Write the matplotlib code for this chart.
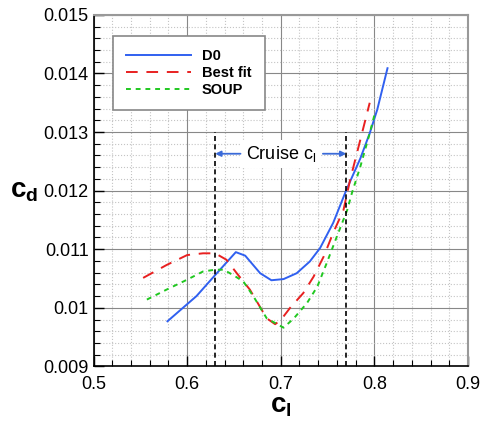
import matplotlib
matplotlib.use("Agg")
import matplotlib.pyplot as plt
from matplotlib.ticker import MultipleLocator

plt.rcParams['font.family'] = ['Liberation Sans', 'DejaVu Sans']
plt.rcParams['mathtext.fontset'] = 'custom'
plt.rcParams['mathtext.rm'] = 'Liberation Sans'
plt.rcParams['mathtext.bf'] = 'Liberation Sans:bold'

# drag polars
cl_d0 = [0.579, 0.610, 0.630, 0.652, 0.662, 0.678, 0.690, 0.703, 0.717, 0.731,
         0.742, 0.756, 0.770, 0.785, 0.795, 0.803, 0.814]
cd_d0 = [0.00977, 0.01020, 0.01056, 0.01095, 0.01089, 0.01059, 0.01047, 0.01049, 0.01059, 0.01079,
         0.01102, 0.01145, 0.01201, 0.01255, 0.01298, 0.01338, 0.01409]

cl_best = [0.553, 0.578, 0.600, 0.617, 0.630, 0.642, 0.653, 0.667, 0.685, 0.694,
           0.700, 0.710, 0.724, 0.735, 0.746, 0.756, 0.767, 0.774, 0.785, 0.795]
cd_best = [0.01051, 0.01073, 0.01090, 0.01093, 0.01093, 0.01082, 0.01059, 0.01031, 0.00982, 0.00972,
           0.00979, 0.01000, 0.01025, 0.01053, 0.01088, 0.01128, 0.01167, 0.01218, 0.01287, 0.01350]

cl_soup = [0.557, 0.578, 0.600, 0.617, 0.630, 0.639, 0.649, 0.660, 0.671, 0.685,
           0.694, 0.703, 0.714, 0.728, 0.739, 0.749, 0.760, 0.771, 0.776, 0.785, 0.794, 0.801]
cd_soup = [0.01014, 0.01031, 0.01048, 0.01062, 0.01065, 0.01065, 0.01056, 0.01045, 0.01019, 0.00982,
           0.00974, 0.00966, 0.00982, 0.01008, 0.01036, 0.01076, 0.01122, 0.01167, 0.01196, 0.01241, 0.01292, 0.01335]

cruise_cl = [0.63, 0.77]

fig = plt.figure(figsize=(4.82, 4.26), dpi=100)
ax = fig.add_axes([0.194, 0.140, 0.777, 0.825])

ax.set_xlim(0.5, 0.9)
ax.set_ylim(0.009, 0.015)
ax.xaxis.set_major_locator(MultipleLocator(0.1))
ax.xaxis.set_minor_locator(MultipleLocator(0.02))
ax.yaxis.set_major_locator(MultipleLocator(0.001))
ax.yaxis.set_minor_locator(MultipleLocator(0.0002))
ax.set_xticklabels([f"{v:g}" for v in ax.get_xticks()])
ax.set_yticklabels([f"{v:g}" for v in ax.get_yticks()])

ax.grid(which='major', color='#888888', linestyle='-', linewidth=0.8)
ax.grid(which='minor', color='#c4c4c4', linestyle=':', linewidth=0.8)
ax.set_axisbelow(True)

ax.tick_params(which='both', direction='in', top=False, right=False, labelsize=13)
ax.tick_params(which='major', length=7, width=1)
ax.tick_params(which='minor', length=4, width=0.8)
ax.tick_params(axis='x', pad=7)
for side in ('top', 'right'):
    ax.spines[side].set_color('#999999')
    ax.spines[side].set_linewidth(1.5)
for side in ('left', 'bottom'):
    ax.spines[side].set_color('black')
    ax.spines[side].set_linewidth(1.2)

ax.plot(cl_d0, cd_d0, color='#3060f0', linewidth=1.4, label='D0')
ax.plot(cl_best, cd_best, color='#e82020', linewidth=1.4, linestyle=(0, (6, 4.5)), label='Best fit')
ax.plot(cl_soup, cd_soup, color='#20c820', linewidth=1.4, linestyle=(0, (2.5, 2.5)), label='SOUP')

for c in cruise_cl:
    ax.plot([c, c], [0.009, 0.013], color='black', linewidth=1.2, linestyle=(0, (3, 2)))

ax.text(0.7, 0.01263, r'Cruise c$_\mathrm{l}$', fontsize=13, ha='center', va='center',
        bbox=dict(facecolor='white', edgecolor='none', pad=3))
arrow = dict(arrowstyle='-|>', color='#3a6ad8', lw=1.3, mutation_scale=8, shrinkA=0, shrinkB=0)
ax.annotate('', xy=(cruise_cl[0], 0.01263), xytext=(0.657, 0.01263), arrowprops=arrow)
ax.annotate('', xy=(cruise_cl[1], 0.01263), xytext=(0.745, 0.01263), arrowprops=arrow)

leg = ax.legend(loc='upper left', bbox_to_anchor=(0.052, 0.94), borderaxespad=0,
                fancybox=False, edgecolor='#888888', framealpha=1,
                handlelength=4.45, handletextpad=0.75,
                prop={'weight': 'bold', 'size': 10.5}, borderpad=0.9, labelspacing=0.2)
leg.get_frame().set_linewidth(1.2)

ax.set_xlabel(r'$\mathbf{c_l}$', fontsize=20, labelpad=0)
ax.set_ylabel(r'$\mathbf{c_d}$', fontsize=20, rotation=0, labelpad=14, va='center')

fig.savefig('out.png', dpi=100)
